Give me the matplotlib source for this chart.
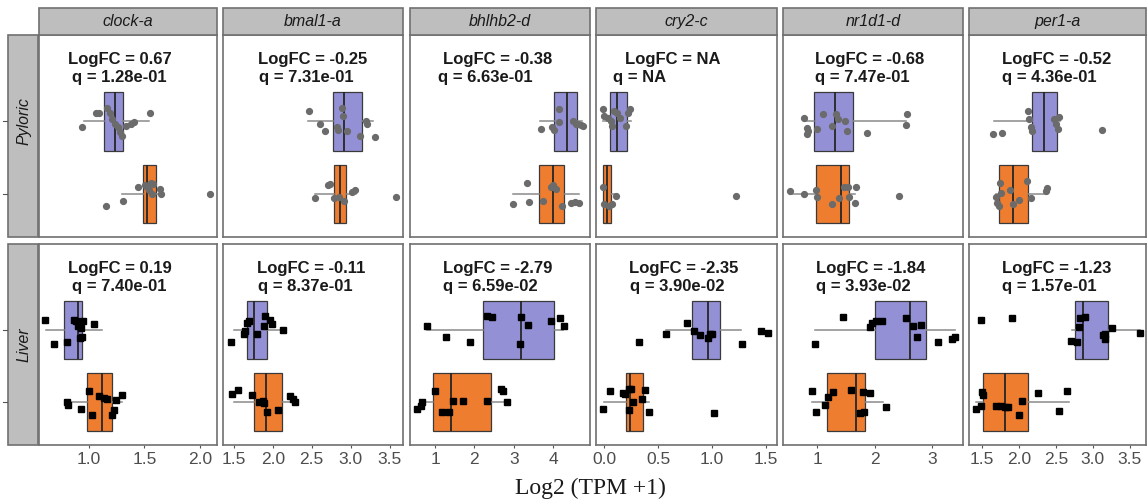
import matplotlib.pyplot as plt
from matplotlib.patches import Rectangle
from matplotlib.lines import Line2D
from matplotlib import transforms

plt.rcParams["font.family"] = ["Liberation Sans", "DejaVu Sans"]

# facets
genes = ["clock-a", "bmal1-a", "bhlhb2-d", "cry2-c", "nr1d1-d", "per1-a"]
tissues = ["Pyloric", "Liver"]

# annotation values
pyl_logfc = ["0.67", "-0.25", "-0.38", "NA", "-0.68", "-0.52"]
pyl_q = ["1.28e-01", "7.31e-01", "6.63e-01", "NA", "7.47e-01", "4.36e-01"]
liv_logfc = ["0.19", "-0.11", "-2.79", "-2.35", "-1.84", "-1.23"]
liv_q = ["7.40e-01", "8.37e-01", "6.59e-02", "3.90e-02", "3.93e-02", "1.57e-01"]

# box stats (q1, median, q3, whisker low, whisker high), upper = purple, lower = orange
pyl_upper_box = [(1.139, 1.235, 1.307, 0.955, 1.542), (2.77, 2.91, 3.15, 2.45, 3.29),
                 (4.03, 4.35, 4.60, 3.67, 4.73), (0.053, 0.115, 0.207, -0.015, 0.25),
                 (0.94, 1.30, 1.62, 0.78, 2.55), (2.17, 2.34, 2.51, 1.66, 2.55)]
pyl_lower_box = [(1.488, 1.527, 1.608, 1.295, 1.65), (2.78, 2.86, 2.94, 2.54, 3.07),
                 (3.65, 3.99, 4.28, 2.97, 4.67), (-0.01, 0.025, 0.062, -0.01, 0.11),
                 (0.98, 1.42, 1.56, 0.52, 1.65), (1.73, 1.91, 2.12, 1.69, 2.37)]
liv_upper_box = [(0.774, 0.904, 0.934, 0.614, 1.12), (1.67, 1.756, 1.93, 1.50, 2.175),
                 (2.23, 3.18, 4.03, 0.79, 4.25), (0.814, 0.96, 1.068, 0.573, 1.27),
                 (2.0, 2.61, 2.89, 0.95, 3.40), (2.76, 2.86, 3.20, 2.72, 3.64)]
liv_lower_box = [(0.985, 1.12, 1.205, 0.79, 1.30), (1.756, 1.91, 2.124, 1.50, 2.28),
                 (0.94, 1.41, 2.42, 0.69, 2.82), (0.20, 0.24, 0.362, 0.0, 0.418),
                 (1.17, 1.67, 1.83, 0.91, 2.15), (1.51, 1.81, 2.12, 1.42, 2.67)]

# points: x values and vertical jitter
pyl_upper_x = [
    [0.94, 1.06, 1.09, 1.166, 1.187, 1.21, 1.235, 1.26, 1.277, 1.295, 1.337, 1.376, 1.41, 1.55],
    [2.466, 2.61, 2.67, 2.82, 2.84, 2.89, 2.90, 2.95, 3.12, 3.20, 3.21, 3.31],
    [3.69, 3.97, 4.03, 4.14, 4.14, 4.52, 4.58, 4.64, 4.70, 4.75],
    [-0.01, 0.0, 0.03, 0.062, 0.07, 0.093, 0.115, 0.145, 0.2, 0.217, 0.24],
    [0.77, 0.81, 0.81, 0.83, 0.99, 1.10, 1.26, 1.33, 1.36, 1.48, 1.52, 1.87, 2.54, 2.56],
    [1.645, 1.77, 2.12, 2.13, 2.16, 2.18, 2.47, 2.50, 2.52, 2.54, 3.12],
]
pyl_upper_jit = [
    [-0.08, 0.12, 0.11, 0.18, 0.12, 0.03, -0.04, -0.08, -0.15, -0.2, -0.06, -0.03, -0.01, 0.12],
    [0.15, -0.04, -0.13, -0.07, -0.12, 0.19, 0.08, -0.13, -0.2, 0.01, -0.04, -0.21],
    [-0.1, -0.08, -0.12, 0.17, -0.01, 0.01, -0.03, -0.04, -0.05, -0.06],
    [0.17, 0.08, 0.05, 0.01, -0.06, 0.14, 0.12, 0.05, -0.06, 0.12, 0.17],
    [0.05, -0.09, -0.17, -0.13, -0.1, 0.1, -0.06, 0.1, 0.03, 0.01, -0.13, -0.16, -0.05, 0.1],
    [-0.17, -0.16, 0.14, 0.03, -0.08, -0.13, 0.03, -0.04, -0.1, 0.06, -0.12],
]
pyl_lower_x = [
    [1.15, 1.31, 1.446, 1.506, 1.527, 1.557, 1.578, 1.54, 1.566, 1.64, 1.648, 2.09],
    [2.54, 2.71, 2.74, 2.78, 2.85, 2.92, 3.01, 3.06, 3.58],
    [2.97, 3.35, 3.40, 3.74, 3.94, 4.0, 4.08, 4.22, 4.45, 4.56, 4.67],
    [-0.01, 0.0, 0.046, 0.07, 0.108, 1.22],
    [0.53, 0.76, 0.97, 0.99, 1.26, 1.38, 1.46, 1.53, 1.55, 1.65, 1.67, 2.42],
    [1.69, 1.70, 1.72, 1.74, 1.75, 1.88, 1.91, 2.0, 2.1, 2.16, 2.36, 2.38],
]
pyl_lower_jit = [
    [-0.17, -0.09, 0.1, 0.12, 0.1, 0.16, 0.14, 0.05, 0.0, 0.07, 0.0, 0.0],
    [-0.06, 0.12, 0.14, -0.06, -0.04, -0.09, 0.03, 0.06, -0.04],
    [-0.14, 0.15, -0.11, -0.1, 0.1, 0.12, 0.07, -0.16, -0.12, -0.11, -0.12],
    [0.1, -0.13, -0.16, -0.14, -0.03, -0.03],
    [0.04, 0.0, 0.06, -0.04, -0.14, -0.05, 0.1, 0.1, -0.04, -0.12, 0.1, -0.02],
    [-0.04, -0.12, -0.16, 0.16, 0.01, 0.06, -0.13, -0.08, 0.18, -0.06, 0.04, 0.09],
]
liv_upper_x = [
    [0.60, 0.684, 0.804, 0.864, 0.88, 0.904, 0.925, 0.95, 0.934, 0.916, 1.045],
    [1.47, 1.63, 1.65, 1.67, 1.69, 1.80, 1.885, 1.90, 1.96, 1.995, 2.13],
    [0.79, 1.27, 1.89, 2.33, 2.44, 3.18, 3.37, 3.16, 3.94, 4.19, 4.28],
    [0.319, 0.573, 0.765, 0.827, 0.882, 0.96, 0.98, 1.0, 1.275, 1.455, 1.517],
    [0.95, 1.45, 1.92, 1.96, 2.02, 2.13, 2.54, 2.66, 2.73, 2.80, 3.10, 3.35, 3.40],
    [1.48, 1.90, 2.70, 2.79, 2.81, 2.83, 2.89, 3.14, 3.16, 3.17, 3.26, 3.64],
]
liv_upper_jit = [
    [0.14, -0.19, -0.17, 0.14, 0.12, 0.05, 0.03, 0.13, -0.09, -0.11, 0.08],
    [-0.17, -0.06, -0.02, 0.1, 0.12, -0.06, 0.05, 0.2, 0.14, 0.08, 0.0],
    [0.06, -0.09, -0.16, 0.19, 0.18, 0.18, 0.07, -0.19, 0.12, 0.16, 0.06],
    [-0.16, -0.06, 0.1, -0.02, -0.07, -0.11, -0.06, -0.06, -0.19, -0.01, -0.04],
    [-0.19, 0.18, 0.04, 0.1, 0.12, 0.12, 0.17, 0.06, -0.1, 0.07, -0.16, -0.12, -0.09],
    [0.14, 0.16, -0.15, -0.17, 0.04, 0.16, 0.18, -0.07, -0.12, -0.06, 0.03, -0.04],
]
liv_lower_x = [
    [0.804, 0.81, 0.925, 1.0, 1.024, 1.09, 1.136, 1.166, 1.226, 1.205, 1.247, 1.30],
    [1.48, 1.55, 1.74, 1.83, 1.87, 1.89, 1.93, 2.07, 2.22, 2.26, 2.28],
    [0.55, 0.64, 0.68, 1.0, 1.17, 1.36, 1.45, 1.70, 2.31, 2.69, 2.74, 2.82],
    [-0.01, 0.053, 0.17, 0.195, 0.226, 0.248, 0.263, 0.226, 0.35, 0.38, 0.41, 1.02],
    [0.91, 0.97, 1.13, 1.19, 1.27, 1.59, 1.74, 1.80, 1.81, 1.92, 2.2],
    [1.42, 1.48, 1.49, 1.51, 1.68, 1.75, 1.81, 1.85, 2.0, 2.04, 2.25, 2.54, 2.65],
]
liv_lower_jit = [
    [0.0, -0.03, -0.09, 0.16, -0.18, 0.09, 0.06, 0.05, -0.1, -0.17, 0.03, 0.1],
    [0.12, 0.17, 0.1, 0.0, 0.02, -0.01, -0.14, -0.11, 0.09, 0.05, 0.01],
    [-0.09, -0.05, 0.0, 0.15, -0.14, -0.14, 0.02, 0.02, 0.02, 0.18, 0.16, 0.0],
    [-0.09, 0.15, 0.125, 0.11, 0.19, 0.19, 0.0, -0.11, 0.05, 0.17, -0.14, -0.15],
    [0.16, -0.13, -0.03, 0.08, 0.14, 0.17, -0.15, 0.14, -0.13, 0.125, -0.06],
    [-0.09, -0.05, 0.14, 0.1, -0.05, -0.05, -0.06, -0.07, -0.18, 0.02, 0.125, -0.12, 0.16],
]

x_limits = [(0.548, 2.156), (1.363, 3.67), (0.364, 4.94), (-0.077, 1.60), (0.40, 3.54), (1.32, 3.72)]
x_ticks = [[1.0, 1.5, 2.0], [1.5, 2.0, 2.5, 3.0, 3.5], [1, 2, 3, 4],
           [0.0, 0.5, 1.0, 1.5], [1, 2, 3], [1.5, 2.0, 2.5, 3.0, 3.5]]

# layout in pixels
W, H = 1147, 504
panel_left = [39, 223, 410, 596, 783, 969]
panel_right = [217, 403, 590, 777, 963, 1146]
row_top = [35, 244]
row_bottom = [237, 445]
row_label_y = [121, 345]
# left offset of the "LogFC" line and the "q" line inside each panel
text_off = [[(29, 33), (35, 36), (33, 28), (29, 17), (32, 32), (33, 33)],
            [(29, 33), (34, 35), (33, 33), (33, 34), (33, 33), (33, 33)]]

purple = "#9390D6"
orange = "#EE7D30"
border = "#707070"
strip_fill = "#BEBEBE"


def fx(px):
    return px / W


def fy(py):
    return 1 - py / H


def box(stats):
    q1, med, q3, lo, hi = stats
    return {"q1": q1, "med": med, "q3": q3, "whislo": lo, "whishi": hi, "fliers": []}


def draw_group(ax, stats, xs, jit, pos, color, marker, mcolor, ms):
    ax.bxp([box(stats)], positions=[pos], widths=0.8, vert=False, patch_artist=True,
           showcaps=False, showfliers=False, manage_ticks=False,
           boxprops=dict(facecolor=color, edgecolor="#3a3a3a", linewidth=0.9),
           medianprops=dict(color="#262626", linewidth=1.3),
           whiskerprops=dict(color="#8a8a8a", linewidth=1.1), zorder=2)
    ax.plot(xs, [pos + j for j in jit], ls="none", marker=marker, ms=ms,
            color=mcolor, zorder=3)


fig = plt.figure(figsize=(11.47, 5.04), dpi=100)

rows = [
    (pyl_upper_box, pyl_lower_box, pyl_upper_x, pyl_upper_jit, pyl_lower_x, pyl_lower_jit,
     pyl_logfc, pyl_q, "o", "#6b6b6b", 4.2),
    (liv_upper_box, liv_lower_box, liv_upper_x, liv_upper_jit, liv_lower_x, liv_lower_jit,
     liv_logfc, liv_q, "s", "black", 4.8),
]

for r, row in enumerate(rows):
    ub, lb, ux, uj, lx, lj, lfc, qv, marker, mcolor, ms = row
    top, bottom = row_top[r], row_bottom[r]
    for c in range(len(genes)):
        left, right = panel_left[c], panel_right[c]
        ax = fig.add_axes([fx(left), fy(bottom), (right - left) / W, (bottom - top) / H])
        draw_group(ax, ub[c], ux[c], uj[c], 2, purple, marker, mcolor, ms)
        draw_group(ax, lb[c], lx[c], lj[c], 1, orange, marker, mcolor, ms)
        ax.set_xlim(x_limits[c])
        ax.set_ylim(0.41, 3.19)
        ax.set_yticks([])
        ax.set_xticks(x_ticks[c])
        if r == 0:
            ax.tick_params(axis="x", length=0, labelbottom=False)
        else:
            ax.tick_params(axis="x", length=2.5, width=0.8, color="#555555", pad=2.5,
                           labelsize=12.5, labelcolor="#4D4D4D")
        for s in ax.spines.values():
            s.set_color(border)
            s.set_linewidth(1.2)

        pw, ph = right - left, bottom - top
        o1, o2 = text_off[r][c]
        ax.text(o1 / pw, 1 - 29 / ph, "LogFC = " + lfc[c], transform=ax.transAxes,
                ha="left", va="baseline", fontsize=12, fontweight="bold", color="#1a1a1a")
        ax.text(o2 / pw, 1 - 47 / ph, "q = " + qv[c], transform=ax.transAxes,
                ha="left", va="baseline", fontsize=12, fontweight="bold", color="#1a1a1a")

        # small y ticks outside the row strip
        tr = transforms.blended_transform_factory(fig.transFigure, ax.transData)
        if c == 0:
            for pos in [1, 2]:
                fig.add_artist(Line2D([fx(3), fx(7)], [pos, pos], transform=tr,
                                      color="#555555", lw=0.8))

    # row strip
    fig.add_artist(Rectangle((fx(8), fy(bottom)), fx(38) - fx(8), (bottom - top) / H,
                             transform=fig.transFigure, facecolor=strip_fill,
                             edgecolor=border, lw=1.2))
    fig.text(fx(24), fy(row_label_y[r]), tissues[r], rotation=90, ha="center", va="center",
             fontsize=11.5, style="italic", color="#1a1a1a")

# column strips
for c, g in enumerate(genes):
    left, right = panel_left[c], panel_right[c]
    fig.add_artist(Rectangle((fx(left), fy(35)), (right - left) / W, 27 / H,
                             transform=fig.transFigure, facecolor=strip_fill,
                             edgecolor=border, lw=1.2))
    fig.text((fx(left) + fx(right)) / 2, fy(21.5), g, ha="center", va="center",
             fontsize=11.5, style="italic", color="#1a1a1a")

fig.text(fx(590), fy(488), "Log2 (TPM +1)", ha="center", va="center", fontsize=17,
         family="Liberation Serif", color="#1a1a1a")

fig.savefig("out.png", dpi=100)
